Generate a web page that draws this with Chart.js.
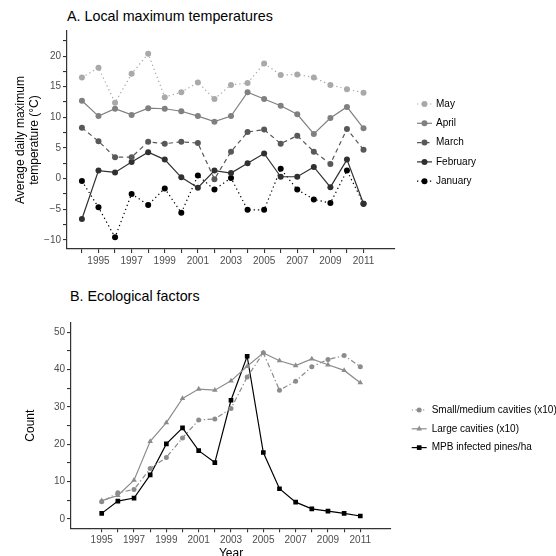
<!DOCTYPE html>
<html>
<head>
<meta charset="utf-8">
<script src="https://cdn.jsdelivr.net/npm/chart.js@4.4.1/dist/chart.umd.min.js"></script>
<style>
  html, body { margin: 0; padding: 0; background: #fff; overflow: hidden; }
  body { width: 556px; height: 556px; position: relative; font-family: "Liberation Sans", Arial, sans-serif; }
  .panel-title { position: absolute; font-size: 14.3px; line-height: 16px; color: #000; white-space: nowrap; }
  .box { position: absolute; left: 0; width: 556px; }
  canvas { display: block; }
</style>
</head>
<body>
<div class="panel-title" style="left:67px; top:8px;">A. Local maximum temperatures</div>
<div class="box" style="top:0; height:275px;"><canvas id="tempChart" width="556" height="275"></canvas></div>
<div class="panel-title" style="left:70px; top:288px;">B. Ecological factors</div>
<div class="box" style="top:280px; height:282px;"><canvas id="ecoChart" width="556" height="282"></canvas></div>

<script>
// panel A: average daily max temperature by month
const yearsA = [1994, 1995, 1996, 1997, 1998, 1999, 2000, 2001, 2002, 2003, 2004, 2005, 2006, 2007, 2008, 2009, 2010, 2011];
const may      = [16.5, 18.1, 12.4, 17.1, 20.4, 13.3, 14.1, 15.7, 13.0, 15.3, 15.6, 18.8, 16.9, 17.0, 16.5, 15.3, 14.6, 14.0];
const april    = [12.7, 10.2, 11.4, 10.4, 11.5, 11.4, 11.0, 10.2, 9.3, 10.2, 14.1, 13.0, 11.9, 10.5, 7.3, 9.9, 11.7, 8.2];
const march    = [8.3, 6.1, 3.5, 3.5, 6.0, 5.7, 6.0, 5.8, -0.1, 4.4, 7.6, 8.0, 5.7, 7.0, 4.4, 2.4, 8.1, 4.7];
const february = [-6.6, 1.3, 1.0, 2.7, 4.3, 3.1, 0.2, -1.5, 1.3, 0.9, 2.5, 4.1, 0.3, 0.3, 1.9, -1.4, 3.1, -4.1];
const january  = [-0.4, -4.7, -9.6, -2.5, -4.3, -1.6, -5.6, 0.5, -1.8, 0.1, -5.1, -5.1, 1.6, -1.8, -3.4, -4.0, 1.3, -4.1];
const tempTicks = [-10, -7.5, -5, -2.5, 0, 2.5, 5, 7.5, 10, 12.5, 15, 17.5, 20, 22.5];

// panel B: ecological factors
const yearsB = [1995, 1996, 1997, 1998, 1999, 2000, 2001, 2002, 2003, 2004, 2005, 2006, 2007, 2008, 2009, 2010, 2011];
const smallCavities = [4.6, 7.0, 7.9, 13.5, 16.5, 21.7, 26.5, 26.8, 29.6, 38.0, 44.5, 34.5, 36.9, 40.8, 42.7, 43.8, 40.8];
const largeCavities = [4.9, 6.3, 10.4, 20.8, 25.8, 32.3, 34.8, 34.5, 37.0, 40.9, 44.5, 42.4, 41.1, 42.9, 41.3, 39.8, 36.5];
const mpbPines      = [1.5, 4.8, 5.6, 11.8, 20.1, 24.4, 18.3, 15.1, 31.8, 43.6, 17.8, 8.1, 4.5, 2.7, 2.1, 1.5, 0.8];
const countTicks = [0, 5, 10, 15, 20, 25, 30, 35, 40, 45, 50];

const FONT = '"Liberation Sans", Arial, sans-serif';
const TICK_COLOR = '#4d4d4d';
const AXIS_COLOR = '#333';

function pts(xs, ys) {
  return xs.map(function (x, i) { return { x: x, y: ys[i] }; });
}

function fmt(v) {
  return v < 0 ? '\u2212' + Math.abs(v) : String(v);
}

function series(label, xs, ys, color, dash, style, radius) {
  return {
    label: label,
    data: pts(xs, ys),
    borderColor: color,
    backgroundColor: color,
    borderWidth: 1.2,
    borderDash: dash,
    pointStyle: style,
    pointRadius: radius,
    pointBorderWidth: 0,
    pointBackgroundColor: color,
    tension: 0,
    fill: false
  };
}

// legend drawn at the right, line + marker like ggplot keys
const sideLegend = {
  id: 'sideLegend',
  afterDraw(chart, args, opts) {
    const ctx = chart.ctx;
    ctx.save();
    chart.data.datasets.forEach(function (ds, i) {
      const y = opts.top + i * opts.gap;
      ctx.strokeStyle = ds.borderColor;
      ctx.lineWidth = ds.borderWidth;
      ctx.setLineDash(ds.borderDash || []);
      ctx.beginPath();
      ctx.moveTo(opts.x, y);
      ctx.lineTo(opts.x + opts.len, y);
      ctx.stroke();
      ctx.setLineDash([]);
      ctx.fillStyle = ds.borderColor;
      Chart.helpers.drawPoint(ctx, { pointStyle: ds.pointStyle, radius: ds.pointRadius, borderWidth: 0, rotation: 0 }, opts.x + opts.len / 2, y);
      ctx.fillStyle = '#000';
      ctx.font = '10px ' + FONT;
      ctx.textAlign = 'left';
      ctx.textBaseline = 'middle';
      ctx.fillText(ds.label, opts.x + opts.len + opts.textGap, y);
    });
    ctx.restore();
  }
};

function xScale(years, height, title) {
  return {
    type: 'linear',
    min: 1993.1,
    max: 2012.9,
    afterBuildTicks: function (s) { s.ticks = years.map(function (v) { return { value: v }; }); },
    afterFit: function (s) { s.height = height; },
    ticks: {
      autoSkip: false, maxRotation: 0, padding: 2,
      color: TICK_COLOR, font: { family: FONT, size: 10 },
      callback: function (v) { return v % 2 === 1 ? String(v) : ''; }
    },
    grid: { drawOnChartArea: false, drawTicks: true, tickLength: 4, color: AXIS_COLOR, lineWidth: 1.1 },
    border: { display: true, color: AXIS_COLOR, width: 1.2 },
    title: title
  };
}

function yScale(min, max, tickVals, labelEvery, width, title) {
  return {
    min: min,
    max: max,
    afterBuildTicks: function (s) { s.ticks = tickVals.map(function (v) { return { value: v }; }); },
    afterFit: function (s) { s.width = width; },
    ticks: {
      autoSkip: false, padding: 2,
      color: TICK_COLOR, font: { family: FONT, size: 10 },
      callback: function (v) { return v % labelEvery === 0 ? fmt(v) : ''; }
    },
    grid: { drawOnChartArea: false, drawTicks: true, tickLength: 4, color: AXIS_COLOR, lineWidth: 1.1 },
    border: { display: true, color: AXIS_COLOR, width: 1.2 },
    title: title
  };
}

new Chart(document.getElementById('tempChart'), {
  type: 'line',
  data: {
    datasets: [
      series('May', yearsA, may, '#a9a9a9', [1.3, 3], 'circle', 3),
      series('April', yearsA, april, '#808080', [], 'circle', 3),
      series('March', yearsA, march, '#585858', [4.5, 3.5], 'circle', 3),
      series('February', yearsA, february, '#303030', [], 'circle', 3),
      series('January', yearsA, january, '#000000', [1.3, 3], 'circle', 3)
    ]
  },
  options: {
    responsive: false,
    animation: false,
    layout: { padding: { left: 0, right: 161, top: 31, bottom: 0 } },
    scales: {
      x: xScale(yearsA, 26, { display: false }),
      y: yScale(-11.5, 24.1, tempTicks, 5, 67, {
        display: true,
        text: ['Average daily maximum', 'temperature (\u00b0C)'],
        color: '#000',
        font: { family: FONT, size: 12, lineHeight: 1.15 },
        padding: { top: 14, bottom: 0 }
      })
    },
    plugins: {
      legend: { display: false },
      tooltip: { enabled: false },
      sideLegend: { x: 417, len: 15, textGap: 4, top: 104, gap: 19.3 }
    }
  },
  plugins: [sideLegend]
});

new Chart(document.getElementById('ecoChart'), {
  type: 'line',
  data: {
    datasets: [
      series('Small/medium cavities (x10)', yearsB, smallCavities, '#8c8c8c', [1.3, 2.5, 5, 2.5], 'circle', 2.5),
      series('Large cavities (x10)', yearsB, largeCavities, '#8c8c8c', [], 'triangle', 3.2),
      series('MPB infected pines/ha', yearsB, mpbPines, '#000000', [], 'rect', 3.3)
    ]
  },
  options: {
    responsive: false,
    animation: false,
    layout: { padding: { left: 0, right: 165, top: 43, bottom: 0 } },
    scales: {
      x: xScale(yearsB, 33.7, {
        display: true, text: 'Year', color: '#000',
        font: { family: FONT, size: 12, lineHeight: 1.15 },
        padding: { top: 0, bottom: 1 }
      }),
      y: yScale(-2.5, 52.5, countTicks, 10, 71, {
        display: true, text: 'Count', color: '#000',
        font: { family: FONT, size: 12, lineHeight: 1.15 },
        padding: { top: 24, bottom: 0 }
      })
    },
    plugins: {
      legend: { display: false },
      tooltip: { enabled: false },
      sideLegend: { x: 411.7, len: 15, textGap: 5, top: 130, gap: 18.8 }
    }
  },
  plugins: [sideLegend]
});
</script>
</body>
</html>
